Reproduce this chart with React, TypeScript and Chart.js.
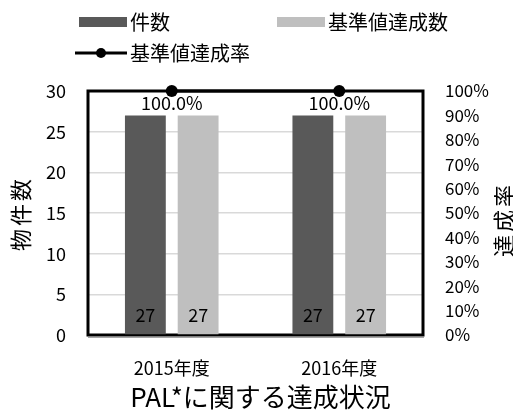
import React, { useEffect, useRef } from "react";
import { Chart, registerables } from "chart.js";

Chart.register(...registerables);

const categories = ["2015年度", "2016年度"];
const countValues = [27, 27];
const achievedValues = [27, 27];
const rateValues = [1.0, 1.0];
const seriesNames = ["件数", "基準値達成数", "基準値達成率"];
const leftTicks = [0, 5, 10, 15, 20, 25, 30];
const rightTicks = ["0%", "10%", "20%", "30%", "40%", "50%", "60%", "70%", "80%", "90%", "100%"];
const titleText = "PAL*に関する達成状況";
const leftTitle = "物件数";
const rightTitle = "達成率";

const FONT = '"Noto Sans CJK JP", "Noto Sans", sans-serif';
const DARK = "#595959";
const LIGHT = "#bfbfbf";

const decorPlugin = {
  id: "decor",
  beforeDatasetsDraw(chart: any) {
    const { ctx, chartArea: a } = chart;
    ctx.save();
    ctx.strokeStyle = "#a6a6a6";
    ctx.lineWidth = 1;
    ctx.beginPath();
    ctx.moveTo(a.left, a.bottom + 2.5);
    ctx.lineTo(a.right + 1, a.bottom + 2.5);
    ctx.stroke();
    ctx.strokeStyle = "#000";
    ctx.lineWidth = 3;
    ctx.strokeRect(a.left, a.top, a.right - a.left, a.bottom - a.top);
    ctx.restore();
  },
  afterDatasetsDraw(chart: any) {
    const { ctx, chartArea: a } = chart;
    ctx.save();
    ctx.font = `18px ${FONT}`;
    ctx.fillStyle = "#000";
    ctx.textAlign = "center";
    ctx.textBaseline = "middle";
    [0, 1].forEach((di) => {
      const meta = chart.getDatasetMeta(di);
      meta.data.forEach((el: any, i: number) => {
        ctx.fillText(String(chart.data.datasets[di].data[i]), el.x, a.bottom - 20);
      });
    });
    const lm = chart.getDatasetMeta(2);
    lm.data.forEach((el: any, i: number) => {
      const v = chart.data.datasets[2].data[i] as number;
      ctx.fillText((v * 100).toFixed(1) + "%", el.x, el.y + 12);
    });

    // Legend
    ctx.font = `20px ${FONT}`;
    ctx.textAlign = "left";
    const ds = chart.data.datasets;
    ctx.fillStyle = ds[0].backgroundColor;
    ctx.fillRect(71, 9, 48, 10);
    ctx.fillStyle = "#000";
    ctx.fillText(ds[0].label, 122, 14);
    ctx.fillStyle = ds[1].backgroundColor;
    ctx.fillRect(269, 9, 48, 10);
    ctx.fillStyle = "#000";
    ctx.fillText(ds[1].label, 320, 14);
    ctx.strokeStyle = ds[2].borderColor;
    ctx.lineWidth = 3;
    ctx.beginPath();
    ctx.moveTo(67, 45);
    ctx.lineTo(119, 45);
    ctx.stroke();
    ctx.fillStyle = "#000";
    ctx.beginPath();
    ctx.arc(93, 45, 5, 0, Math.PI * 2);
    ctx.fill();
    ctx.fillText(ds[2].label, 122, 45);

    // Axis titles
    ctx.font = `22px ${FONT}`;
    (ctx as any).letterSpacing = "3px";
    ctx.textAlign = "center";
    ctx.save();
    ctx.translate(13, (a.top + a.bottom) / 2 + 2);
    ctx.rotate(-Math.PI / 2);
    ctx.fillText(leftTitle, 1.5, 0);
    ctx.restore();
    ctx.save();
    ctx.translate(496, (a.top + a.bottom) / 2 + 8);
    ctx.rotate(-Math.PI / 2);
    ctx.fillText(rightTitle, 1.5, 0);
    ctx.restore();
    (ctx as any).letterSpacing = "0px";
    ctx.restore();
  },
};

export default function App() {
  const ref = useRef<HTMLCanvasElement>(null);
  useEffect(() => {
    if (!ref.current) return;
    const chart = new Chart(ref.current, {
      type: "bar",
      data: {
        labels: categories,
        datasets: [
          {
            type: "bar",
            label: seriesNames[0],
            data: countValues,
            backgroundColor: DARK,
            yAxisID: "y",
            categoryPercentage: 0.63,
            barPercentage: 0.774,
            order: 2,
          },
          {
            type: "bar",
            label: seriesNames[1],
            data: achievedValues,
            backgroundColor: LIGHT,
            yAxisID: "y",
            categoryPercentage: 0.63,
            barPercentage: 0.774,
            order: 2,
          },
          {
            type: "line",
            label: seriesNames[2],
            data: rateValues,
            borderColor: "#000",
            backgroundColor: "#000",
            borderWidth: 3,
            pointRadius: 6,
            pointBackgroundColor: "#000",
            pointBorderWidth: 0,
            yAxisID: "y1",
            clip: false,
            order: 1,
          } as any,
        ],
      },
      options: {
        responsive: false,
        animation: false,
        layout: { padding: { top: 83, left: 0, right: 0, bottom: 0 } },
        plugins: {
          legend: { display: false },
          tooltip: { enabled: false },
          title: {
            display: true,
            text: titleText,
            position: "bottom",
            color: "#000",
            font: { family: FONT, size: 26, weight: "normal", lineHeight: 1.0 },
            padding: { top: 4, bottom: 0 },
          },
        },
        scales: {
          x: {
            grid: { display: false, drawTicks: false },
            border: { display: false },
            ticks: { color: "#000", font: { family: FONT, size: 18 }, padding: 22 },
            afterFit: (s: any) => {
              s.height = 45;
            },
          },
          y: {
            position: "left",
            min: 0,
            max: 30,
            afterBuildTicks: (s: any) => {
              s.ticks = leftTicks.map((v) => ({ value: v }));
            },
            grid: { color: "#d9d9d9", lineWidth: 1.5, drawTicks: false },
            border: { display: false },
            ticks: { color: "#000", font: { family: FONT, size: 18 }, padding: 22, autoSkip: false },
            afterFit: (s: any) => {
              s.width = 80;
            },
          },
          y1: {
            position: "right",
            min: 0,
            max: 1,
            afterBuildTicks: (s: any) => {
              s.ticks = rightTicks.map((t) => ({ value: parseFloat(t) / 100 }));
            },
            grid: { display: false, drawTicks: false },
            border: { display: false },
            ticks: {
              color: "#000",
              font: { family: FONT, size: 17 },
              padding: 22,
              autoSkip: false,
              callback: (v: any) => Math.round(Number(v) * 100) + "%",
            },
            afterFit: (s: any) => {
              s.width = 90;
            },
          },
        },
      },
      plugins: [decorPlugin],
    });
    return () => chart.destroy();
  }, []);
  return <canvas ref={ref} width={505} height={402} style={{ display: "block" }} />;
}
